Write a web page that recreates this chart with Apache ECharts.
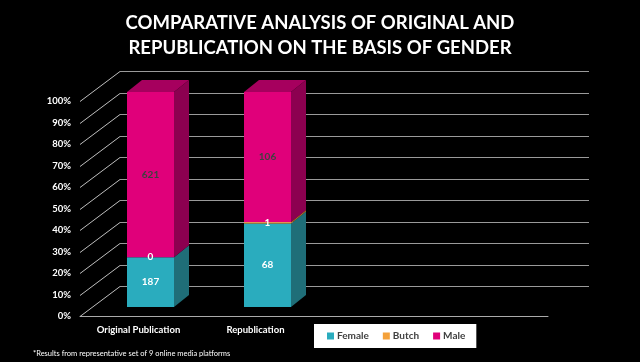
<!DOCTYPE html>
<html><head><meta charset="utf-8">
<script src="https://cdn.jsdelivr.net/npm/echarts@6/dist/echarts.min.js"></script>
<style>html,body{margin:0;padding:0;background:#000;}#c{width:640px;height:362px;}</style>
</head><body><div id="c"></div>
<script>
const categories = ['Original Publication', 'Republication'];
const female = [187, 68];
const butch = [0, 1];
const male = [621, 106];
const yTicks = [0, 10, 20, 30, 40, 50, 60, 70, 80, 90, 100];
const seriesNames = ['Female', 'Butch', 'Male'];

const FONT = 'Lato';
const totals = categories.map((c, i) => female[i] + butch[i] + male[i]);
function segs(arr, base) {
  return arr.map((v, i) => {
    const s = base ? base[i][2] : 0;
    return [i, s, s + v / totals[i] * 100, v];
  });
}
const fSeg = segs(female, null);
const bSeg = segs(butch, fSeg);
const mSeg = segs(male, bSeg);

const DEPTH_X = 40, DEPTH_Y = -30.5, WALL_W = 469;
const BAR_W = 47, BX = 15, BY = -12, OFFX = 12, OFFY = -9;

function barRender(front, side, top, labelColor) {
  return function (params, api) {
    const cat = api.value(0), s = api.value(1), e = api.value(2), raw = api.value(3);
    const c = api.coord([cat, 0])[0];
    const y0 = api.coord([cat, s])[1] + OFFY;
    const y1 = api.coord([cat, e])[1] + OFFY;
    const xl = c + OFFX - BAR_W / 2, xr = xl + BAR_W;
    const ch = [
      {type: 'polygon', shape: {points: [[xr, y0], [xr + BX, y0 + BY], [xr + BX, y1 + BY], [xr, y1]]}, style: {fill: side}},
      {type: 'rect', shape: {x: xl, y: y1, width: BAR_W, height: Math.max(0, y0 - y1)}, style: {fill: front}}
    ];
    if (e >= 99.99) {
      ch.push({type: 'polygon', shape: {points: [[xl, y1], [xr, y1], [xr + BX, y1 + BY], [xl + BX, y1 + BY]]}, style: {fill: top}});
    }
    ch.push({type: 'text', style: {text: String(raw), x: xl + BAR_W / 2, y: (y0 + y1) / 2, align: 'center', verticalAlign: 'middle', fill: labelColor, font: 'bold 10px ' + FONT}});
    return {type: 'group', children: ch};
  };
}

const chart = echarts.init(document.getElementById('c'), null, {renderer: 'canvas'});
chart.setOption({
  backgroundColor: '#000',
  animation: false,
  title: {
    text: 'COMPARATIVE ANALYSIS OF ORIGINAL AND\nREPUBLICATION ON THE BASIS OF GENDER',
    left: 'center', top: 6,
    textStyle: {color: '#fff', fontFamily: FONT, fontWeight: 'bold', fontSize: 18.5, lineHeight: 25}
  },
  legend: {
    data: seriesNames,
    left: 314, top: 324,
    backgroundColor: '#fff',
    padding: [7, 11, 7, 13],
    itemWidth: 7, itemHeight: 7, itemGap: 14,
    icon: 'rect',
    textStyle: {color: '#404040', fontFamily: FONT, fontWeight: 'bold', fontSize: 10, padding: [0, 0, 0, -2]}
  },
  grid: {left: 80, top: 101, width: 468, height: 215, containLabel: false},
  xAxis: {
    type: 'category',
    data: categories.concat(['', '']),
    axisLine: {show: true, lineStyle: {color: '#aaa', width: 1}},
    axisTick: {show: false},
    axisLabel: {color: '#fff', fontFamily: FONT, fontWeight: 'bold', fontSize: 9.5, margin: 9}
  },
  yAxis: {
    type: 'value', min: 0, max: 100, interval: 10,
    axisLine: {show: false}, axisTick: {show: false}, splitLine: {show: false},
    axisLabel: {color: '#fff', fontFamily: FONT, fontWeight: 'bold', fontSize: 9.5, margin: 9, formatter: '{value}%'}
  },
  series: [
    {
      type: 'custom', name: 'grid', silent: true, z: 1,
      data: yTicks.map(v => [0, v]),
      renderItem: function (params, api) {
        const x0 = params.coordSys.x;
        const y = Math.round(api.coord([0, api.value(1)])[1]) + 0.5;
        const yb = Math.round(y + DEPTH_Y) + 0.5;
        return {type: 'group', children: [
          {type: 'line', shape: {x1: x0, y1: y, x2: x0 + DEPTH_X, y2: yb}, style: {stroke: '#bfbfbf', lineWidth: 1}},
          {type: 'line', shape: {x1: x0 + DEPTH_X, y1: yb, x2: x0 + DEPTH_X + WALL_W, y2: yb}, style: {stroke: '#9a9a9a', lineWidth: 1}}
        ]};
      }
    },
    {type: 'custom', name: 'Female', z: 3, itemStyle: {color: '#2aacbe'}, data: fSeg,
      renderItem: barRender('#2aacbe', '#1f6e78', '#249aaa', '#ffffff')},
    {type: 'custom', name: 'Butch', z: 5, itemStyle: {color: '#f4a13a'}, data: bSeg,
      renderItem: barRender('#f4a13a', '#b87428', '#d98c30', '#ffffff')},
    {type: 'custom', name: 'Male', z: 4, itemStyle: {color: '#e0007a'}, data: mSeg,
      renderItem: barRender('#e0007a', '#8c0050', '#a6005e', '#404040')}
  ],
  graphic: [{
    type: 'text', left: 33, top: 350,
    style: {text: '*Results from representative set of 9 online media platforms', fill: '#fff', font: '7.5px ' + FONT}
  }]
});
</script></body></html>
